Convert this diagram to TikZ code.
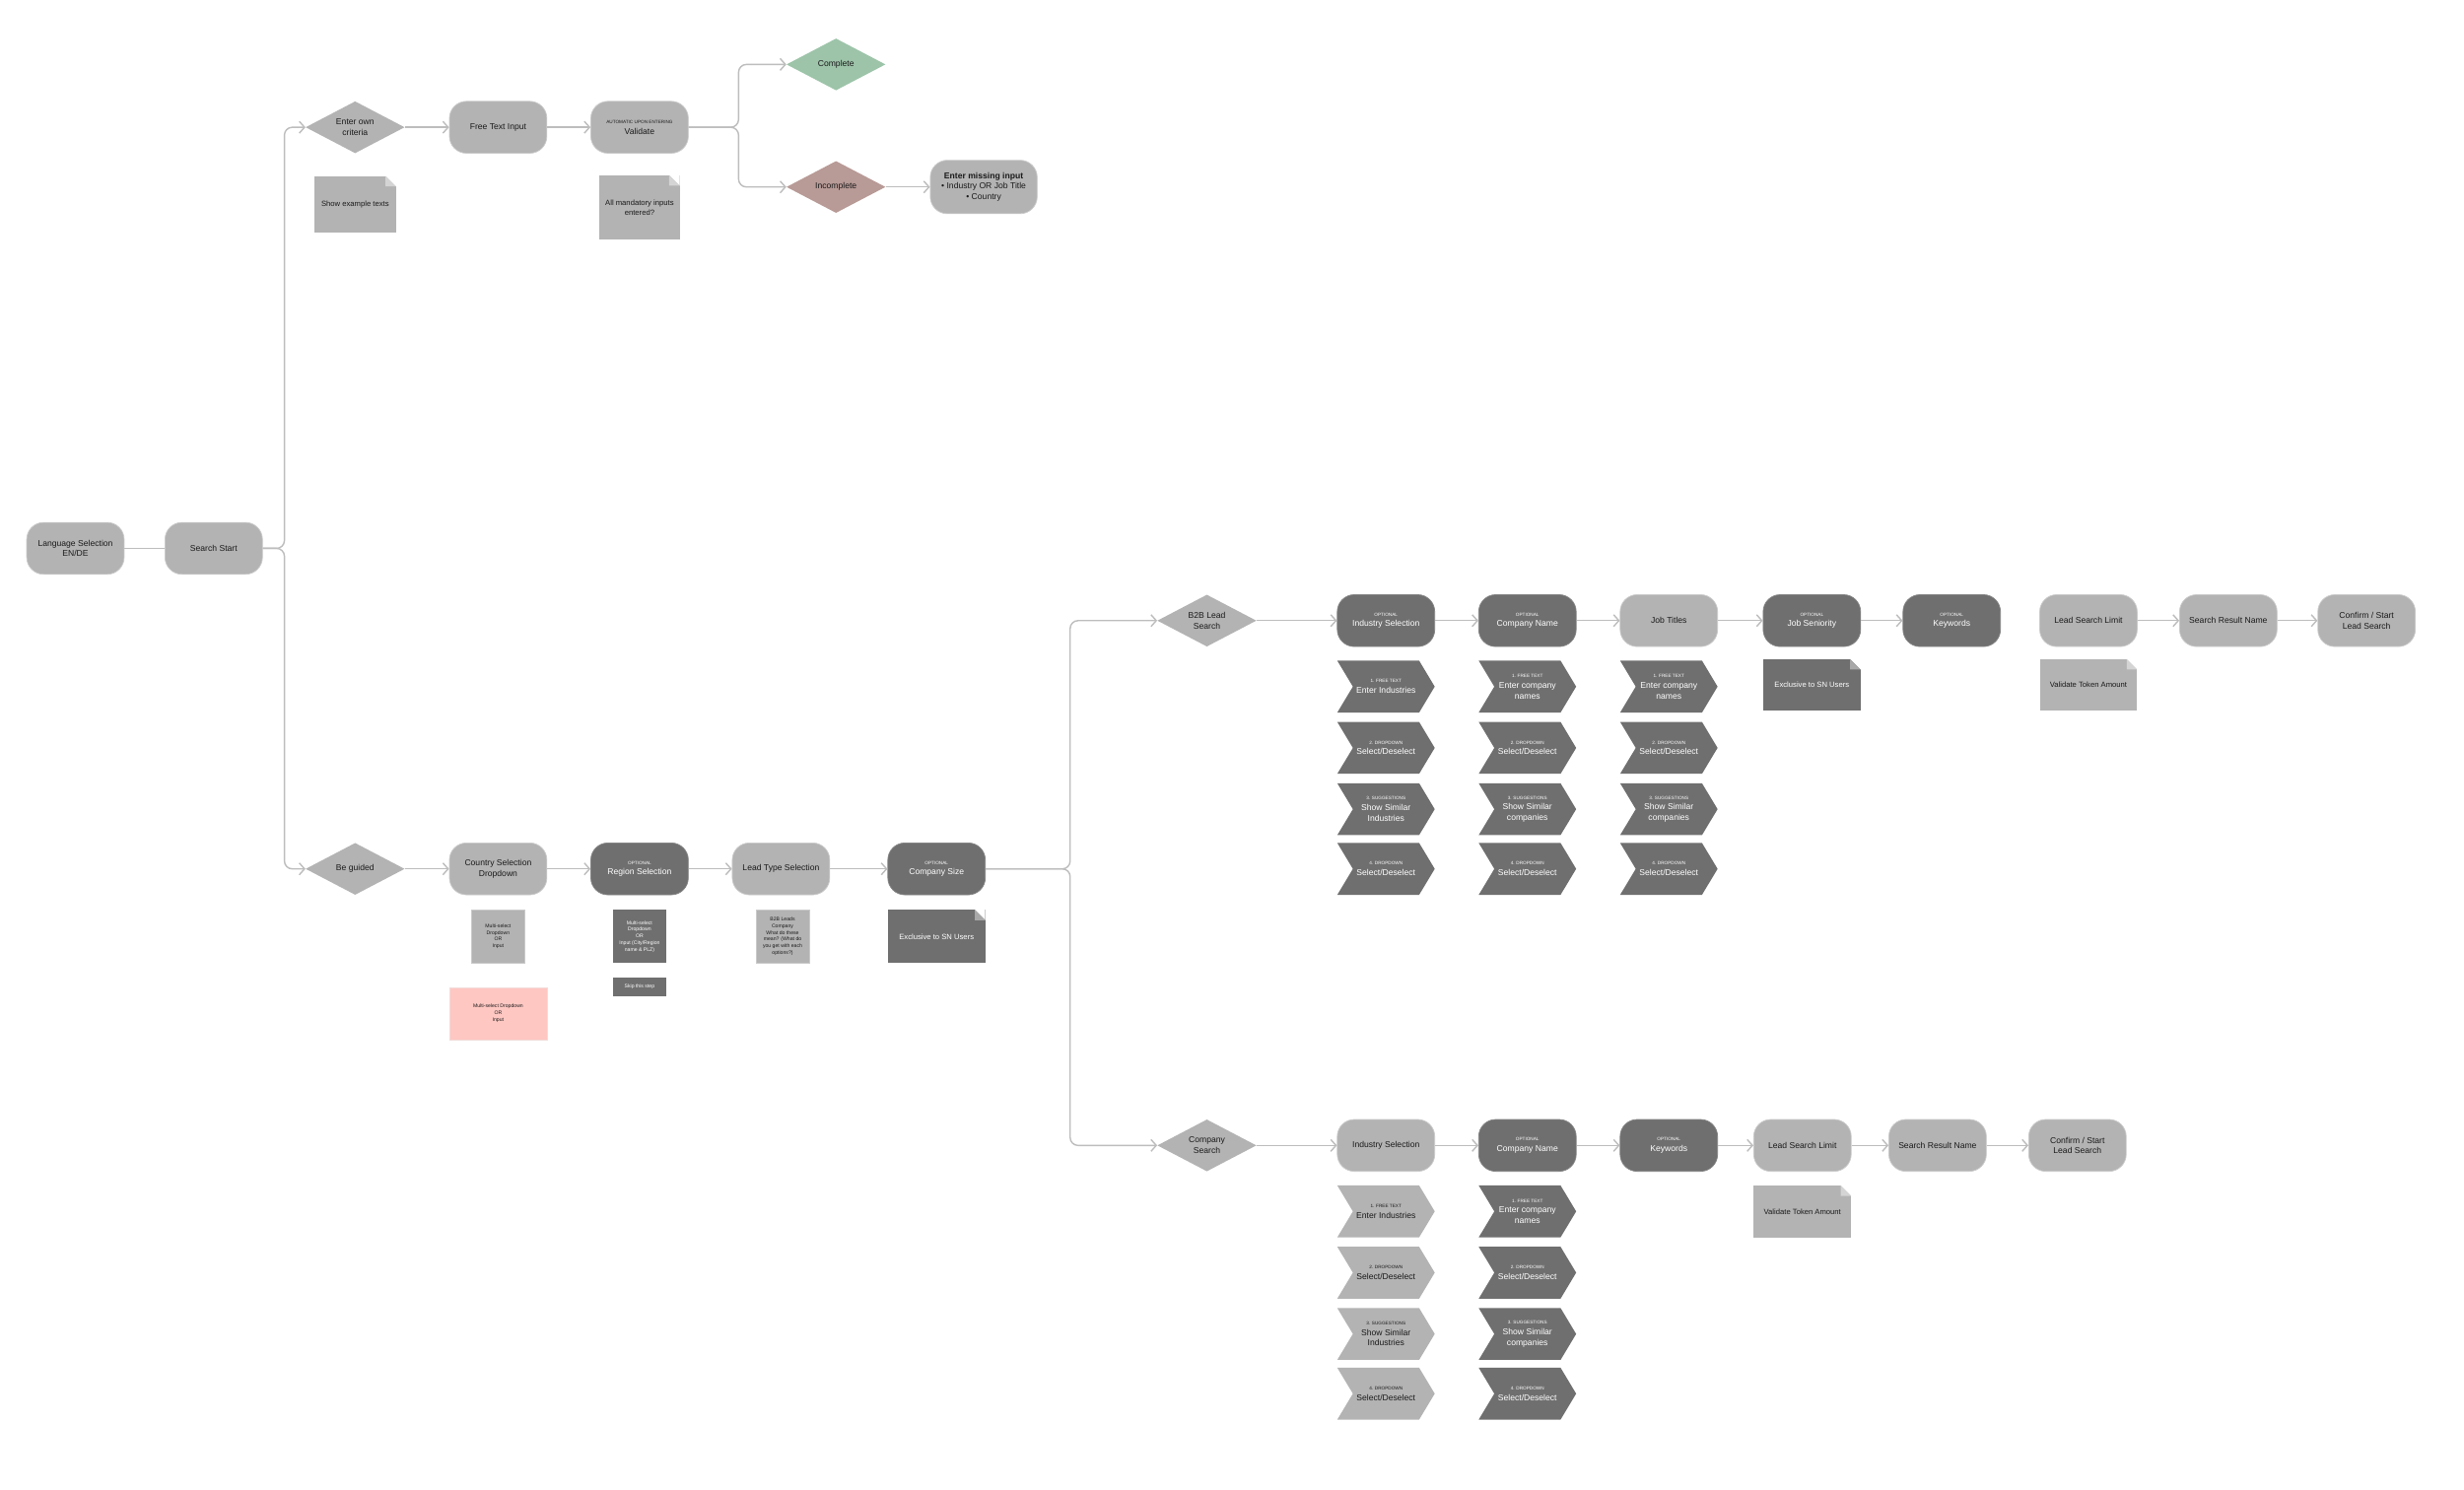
\documentclass[tikz,border=0pt]{standalone}
\usepackage{fontspec}
\setmainfont{Liberation Sans}
\usetikzlibrary{
    shapes.geometric,
    shapes.symbols,
    arrows.meta
}

\definecolor{boxlight}{HTML}{B3B3B3}
\definecolor{edgelight}{HTML}{CACACA}
\definecolor{boxdark}{HTML}{6F6F6F}
\definecolor{edgedark}{HTML}{858585}
\definecolor{foldlight}{HTML}{D4D4D4}
\definecolor{folddark}{HTML}{A8A8A8}
\definecolor{linegray}{HTML}{BDBDBD}
\definecolor{okgreen}{HTML}{9DC4A9}
\definecolor{badred}{HTML}{B89A96}
\definecolor{pinknote}{HTML}{FFC7C2}
\definecolor{pinkedge}{HTML}{F2DCDA}
\definecolor{inkdark}{HTML}{1A1A1A}

\newcommand{\tagfont}{\fontsize{5}{6}\selectfont}
\newcommand{\tagline}[1]{{\tagfont #1}\\}

\tikzset{
    box/.style={rectangle, rounded corners=6.5mm, minimum width=37.2mm,
        minimum height=19.8mm, align=center, inner sep=1pt, line width=0.8pt,
        font=\fontsize{9.2}{11.5}\selectfont},
    lightbox/.style={box, fill=boxlight, draw=edgelight, text=inkdark},
    darkbox/.style={box, fill=boxdark, draw=edgedark, text=white},
    decide/.style={diamond, aspect=1.9, fill=#1, minimum width=37.8mm,
        minimum height=19.8mm, inner sep=0pt, align=center, text=inkdark,
        font=\fontsize{9.2}{11.5}\selectfont},
    decide/.default=boxlight,
    chev/.style={signal, signal to=east, signal from=west,
        signal pointer angle=118, minimum width=37.2mm, minimum height=19.8mm,
        inner sep=0pt, align=center, font=\fontsize{9.2}{11.5}\selectfont},
    chevlight/.style={chev, fill=boxlight, text=inkdark},
    chevdark/.style={chev, fill=boxdark, text=white},
    note/.style={rectangle, align=center, inner sep=1pt,
        font=\fontsize{5.5}{7.2}\selectfont},
    doc/.style 2 args={rectangle, fill=#1, align=center, inner sep=1pt,
        font=\fontsize{8.2}{10.5}\selectfont,
        path picture={
            \fill[white] ([xshift=-4mm]path picture bounding box.north east)
                -- (path picture bounding box.north east)
                -- ([yshift=-4mm]path picture bounding box.north east) -- cycle;
            \fill[#2] ([xshift=-4mm]path picture bounding box.north east)
                -- ([xshift=-4mm,yshift=-4mm]path picture bounding box.north east)
                -- ([yshift=-4mm]path picture bounding box.north east) -- cycle;
        }},
    link/.style={draw=linegray, line width=1.5pt},
    flow/.style={link, rounded corners=3mm,
        -{Straight Barb[length=2mm,width=4.5mm]}}
}

\begin{document}
\begin{tikzpicture}[x=0.6mm, y=-0.6mm]

\useasboundingbox[fill=white] (0,0) rectangle (1568,948);

% Branch points
\coordinate (brA) at (181,0);
\coordinate (brB) at (470,0);
\coordinate (brC) at (681,0);

% Start
\node[lightbox] (lang) at (48,349) {Language Selection\\EN/DE};
\node[lightbox] (start) at (136,349) {Search Start};

% Own criteria
\node[decide] (own) at (226,81) {Enter own\\criteria};
\node[lightbox] (free) at (317,81) {Free Text Input};
\node[lightbox] (valid) at (407,81) {\tagline{AUTOMATIC UPON ENTERING}Validate};
\node[decide=okgreen] (done) at (532,41) {Complete};
\node[decide=badred] (miss) at (532,119) {Incomplete};
\node[lightbox, minimum width=40.8mm, minimum height=20.4mm] (fix) at (626,119)
    {\textbf{Enter missing input}\\• Industry OR Job Title\\• Country};
\node[doc={boxlight}{foldlight}, text=inkdark, minimum width=31.2mm,
    minimum height=21.6mm] (hint) at (226,130) {Show example texts};
\node[doc={boxlight}{foldlight}, text=inkdark, minimum width=30.6mm,
    minimum height=24.6mm] (check) at (407,132) {All mandatory inputs\\entered?};

% Guided
\node[decide] (guide) at (226,553) {Be guided};
\node[lightbox] (country) at (317,553) {Country Selection\\Dropdown};
\node[darkbox] (region) at (407,553) {\tagline{OPTIONAL}Region Selection};
\node[lightbox] (ltype) at (497,553) {Lead Type Selection};
\node[darkbox] (csize) at (596,553) {\tagline{OPTIONAL}Company Size};

\node[note, fill=boxlight, draw=edgelight, text=inkdark, minimum width=20.4mm,
    minimum height=20.4mm] (cnote) at (317,596) {Multi-select\\Dropdown\\OR\\Input};
\node[note, fill=pinknote, draw=pinkedge, text=inkdark, minimum width=37.2mm,
    minimum height=19.8mm] (cpink) at (317,645) {Multi-select Dropdown\\OR\\Input};
\node[note, fill=boxdark, text=white, minimum width=20.4mm,
    minimum height=20.4mm] (rnote) at (407,596)
    {Multi-select\\Dropdown\\OR\\Input (City/Region\\name \& PLZ)};
\node[note, fill=boxdark, text=white, minimum width=20.4mm,
    minimum height=7.2mm] (rskip) at (407,628) {Skip this step};
\node[note, fill=boxlight, draw=edgelight, text=inkdark, minimum width=20.4mm,
    minimum height=20.4mm] (lnote) at (498,596)
    {B2B Leads\\Company\\What do these\\mean? (What do\\you get with each\\options?)};
\node[doc={boxdark}{folddark}, text=white, minimum width=37.2mm,
    minimum height=20.4mm] (csn) at (596,596) {Exclusive to SN Users};

% B2B lead search
\node[decide] (b2b) at (768,395) {B2B Lead\\Search};
\node[darkbox] (bind) at (882,395) {\tagline{OPTIONAL}Industry Selection};
\node[darkbox] (bcomp) at (972,395) {\tagline{OPTIONAL}Company Name};
\node[lightbox] (bjob) at (1062,395) {Job Titles};
\node[darkbox] (bsen) at (1153,395) {\tagline{OPTIONAL}Job Seniority};
\node[darkbox] (bkey) at (1242,395) {\tagline{OPTIONAL}Keywords};
\node[lightbox] (blimit) at (1329,395) {Lead Search Limit};
\node[lightbox] (bname) at (1418,395) {Search Result Name};
\node[lightbox] (bconf) at (1506,395) {Confirm / Start\\Lead Search};
\node[doc={boxdark}{folddark}, text=white, minimum width=37.2mm,
    minimum height=19.8mm] (bsn) at (1153,436) {Exclusive to SN Users};
\node[doc={boxlight}{foldlight}, text=inkdark, minimum width=37.2mm,
    minimum height=19.8mm] (btok) at (1329,436) {Validate Token Amount};

% Company search
\node[decide] (csearch) at (768,729) {Company\\Search};
\node[lightbox] (cind) at (882,729) {Industry Selection};
\node[darkbox] (ccomp) at (972,729) {\tagline{OPTIONAL}Company Name};
\node[darkbox] (ckey) at (1062,729) {\tagline{OPTIONAL}Keywords};
\node[lightbox] (climit) at (1147,729) {Lead Search Limit};
\node[lightbox] (cname) at (1233,729) {Search Result Name};
\node[lightbox] (cconf) at (1322,729) {Confirm / Start\\Lead Search};
\node[doc={boxlight}{foldlight}, text=inkdark, minimum width=37.2mm,
    minimum height=19.8mm] (ctok) at (1147,771) {Validate Token Amount};

% Input steps under the filters
\foreach \i/\yy/\tg/\ti/\tc in {
    1/437/{1. FREE TEXT}/{Enter Industries}/{Enter company\\names},
    2/476/{2. DROPDOWN}/{Select/Deselect}/{Select/Deselect},
    3/515/{3. SUGGESTIONS}/{Show Similar\\Industries}/{Show Similar\\companies},
    4/553/{4. DROPDOWN}/{Select/Deselect}/{Select/Deselect}} {
    \node[chevdark] (bind\i) at (882,\yy) {\tagline{\tg}\ti};
    \node[chevdark] (bcomp\i) at (972,\yy) {\tagline{\tg}\tc};
    \node[chevdark] (bjob\i) at (1062,\yy) {\tagline{\tg}\tc};
    \node[chevlight] (cind\i) at (882,{\yy+334}) {\tagline{\tg}\ti};
    \node[chevdark] (ccomp\i) at (972,{\yy+334}) {\tagline{\tg}\tc};
}

% Connectors
\draw[link] (lang) -- (start);
\draw[flow] (start.east) -- (start.east -| brA) |- (own.west);
\draw[flow] (start.east) -- (start.east -| brA) |- (guide.west);

\draw[flow] (own) -- (free);
\draw[flow] (free) -- (valid);
\draw[flow] (valid.east) -- (valid.east -| brB) |- (done.west);
\draw[flow] (valid.east) -- (valid.east -| brB) |- (miss.west);
\draw[flow] (miss) -- (fix);

\draw[flow] (guide) -- (country);
\draw[flow] (country) -- (region);
\draw[flow] (region) -- (ltype);
\draw[flow] (ltype) -- (csize);
\draw[flow] (csize.east) -- (csize.east -| brC) |- (b2b.west);
\draw[flow] (csize.east) -- (csize.east -| brC) |- (csearch.west);

\draw[flow] (b2b) -- (bind);
\draw[flow] (bind) -- (bcomp);
\draw[flow] (bcomp) -- (bjob);
\draw[flow] (bjob) -- (bsen);
\draw[flow] (bsen) -- (bkey);
\draw[flow] (blimit) -- (bname);
\draw[flow] (bname) -- (bconf);

\draw[flow] (csearch) -- (cind);
\draw[flow] (cind) -- (ccomp);
\draw[flow] (ccomp) -- (ckey);
\draw[flow] (ckey) -- (climit);
\draw[flow] (climit) -- (cname);
\draw[flow] (cname) -- (cconf);

\end{tikzpicture}
\end{document}
